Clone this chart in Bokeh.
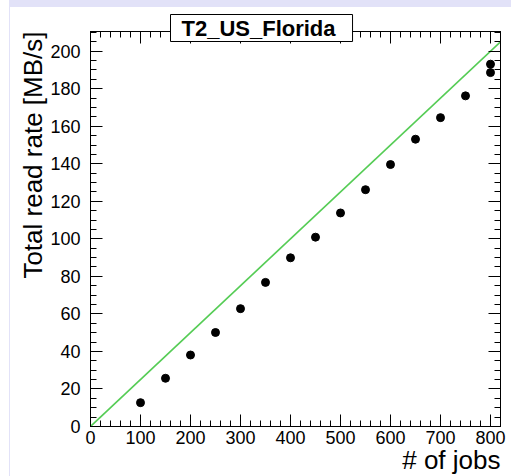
from bokeh.plotting import figure
from bokeh.models import Title, SingleIntervalTicker, LinearAxis, Range1d, CustomJSTickFormatter
from bokeh.embed import file_html
from bokeh.resources import INLINE

# data
jobs = [100, 150, 200, 250, 300, 350, 400, 450, 500, 550, 600, 650, 700, 750, 800, 800]
rate = [12.7, 25.7, 38.1, 50.1, 62.8, 76.8, 89.9, 100.9, 113.8, 126.2, 139.6, 153.1, 164.6, 176.2, 193.1, 188.6]
ideal_x = [0, 820]
ideal_y = [0, 205]
title_text = "T2_US_Florida"
x_title = "# of jobs"
y_title = "Total read rate [MB/s]"

FONT = "Liberation Sans"

p = figure(width=511, height=476, output_backend="svg", toolbar_location=None,
           x_range=Range1d(0, 820), y_range=Range1d(0, 210.5),
           frame_width=410, frame_height=395,
           min_border_left=90, min_border_right=11, min_border_top=31, min_border_bottom=50,
           x_axis_type=None, y_axis_type=None)
p.border_fill_color = None
p.background_fill_color = "white"
p.outline_line_color = "black"
p.outline_line_width = 1
p.styles = {"background": "linear-gradient(#e2e2f8, #e2e2f8) 10px 0 / 100% 7px no-repeat, "
                          "linear-gradient(#e2e2f8, #e2e2f8) 9px 0 / 1px 100% no-repeat, white"}

xt = SingleIntervalTicker(interval=100, num_minor_ticks=5)
yt = SingleIntervalTicker(interval=20, num_minor_ticks=4)

def style_axis(ax, labels=True):
    ax.axis_line_color = "black"
    ax.major_tick_in = 12
    ax.major_tick_out = 0
    ax.minor_tick_in = 6
    ax.minor_tick_out = 0
    ax.major_tick_line_color = "black"
    ax.minor_tick_line_color = "black"
    if labels:
        ax.major_label_text_font = FONT
        ax.major_label_text_font_size = "18px"
        ax.major_label_text_color = "black"
    else:
        ax.formatter = CustomJSTickFormatter(code="return ''")
        ax.major_label_standoff = 0

bottom = LinearAxis(ticker=xt)
style_axis(bottom)
bottom.major_label_standoff = 4
left = LinearAxis(ticker=yt)
style_axis(left)
left.major_label_standoff = 10
top = LinearAxis(ticker=xt)
style_axis(top, labels=False)
right = LinearAxis(ticker=yt)
style_axis(right, labels=False)
p.add_layout(bottom, "below")
p.add_layout(left, "left")
p.add_layout(top, "above")
p.add_layout(right, "right")

p.ygrid.ticker = yt
p.ygrid.grid_line_color = "#666666"
p.ygrid.grid_line_dash = "1 2"
p.ygrid.grid_line_width = 1
p.xgrid.visible = False

p.line(ideal_x, ideal_y, line_color="#55cc55", line_width=1.6)
p.scatter(jobs, rate, size=8, color="black")

# axis titles as side-panel titles
p.add_layout(Title(text=x_title, align="right", text_font=FONT, text_font_size="26px",
                   text_font_style="normal", text_color="black", standoff=-7), "below")
p.add_layout(Title(text=y_title, align="right", text_font=FONT, text_font_size="26px",
                   text_font_style="normal", text_color="black", standoff=0), "left")
p.add_layout(Title(text=title_text, align="left", text_font=FONT, text_font_size="22px",
                   text_font_style="bold", text_color="black", background_fill_color="white",
                   border_line_color="black", border_line_width=1,
                   padding=dict(left=11, right=17, top=1, bottom=1),
                   offset=80, standoff=-20), "above")

open("out.html", "w").write(file_html(p, INLINE))
